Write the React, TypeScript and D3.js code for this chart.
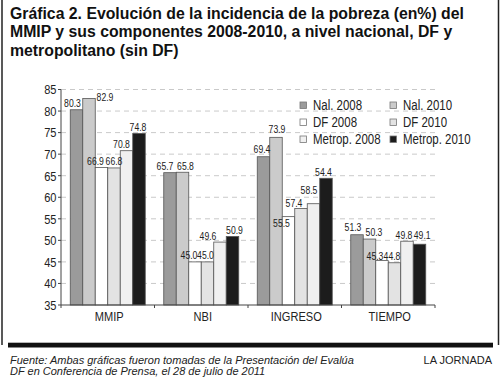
import React from "react";
import * as d3 from "d3";

const categories = ["MMIP", "NBI", "INGRESO", "TIEMPO"];
const seriesNames = ["Nal. 2008", "Nal. 2010", "DF 2008", "DF 2010", "Metrop. 2008", "Metrop. 2010"];
const nal2008 = [80.3, 65.7, 69.4, 51.3];
const nal2010 = [82.9, 65.8, 73.9, 50.3];
const df2008 = [66.9, 45.0, 55.5, 45.3];
const df2010 = [66.8, 45.0, 57.4, 44.8];
const metrop2008 = [70.8, 49.6, 58.5, 49.8];
const metrop2010 = [74.8, 50.9, 64.4, 49.1];
// printed value labels (the original prints 54.4 on the INGRESO Metrop. 2010 bar)
const metrop2010Printed = ["74.8", "50.9", "54.4", "49.1"];
const yTicks = [35, 40, 45, 50, 55, 60, 65, 70, 75, 80, 85];

const titleLines = [
  "Gráfica 2. Evolución de la incidencia de la pobreza (en%) del",
  "MMIP y sus componentes 2008-2010, a nivel nacional, DF y",
  "metropolitano (sin DF)",
];
const footLines = [
  "Fuente: Ambas gráficas fueron tomadas de la Presentación del Evalúa",
  "DF en Conferencia de Prensa, el 28 de julio de 2011",
];

const seriesValues = [nal2008, nal2010, df2008, df2010, metrop2008, metrop2010];
const colors = ["#9b9b9b", "#cbcbcb", "#ffffff", "#e3e3e3", "#f0f0f0", "#1c1c1c"];

// label nudges [dx, dy] per series per category (styling only)
const nudges: [number, number][][] = [
  [[-4, 0], [-5, 0], [-1.5, -1], [-4, -1]],
  [[16, 4.7], [3, 0], [1, -1.5], [4.5, -1]],
  [[-6, 0], [-6, 0], [-7, 12.5], [-7, 1.5]],
  [[0, 0], [-2, 0], [-7, 1], [-2.5, 0]],
  [[-5, 0], [-12, 0], [-4.5, -7], [-3, 0]],
  [[-1, 0], [2, 0], [-2.5, 0], [2.7, -3]],
];

const SANS = "'Liberation Sans', Arial, Helvetica, sans-serif";

function NText(props: {
  x: number;
  y: number;
  size: number;
  sx?: number;
  anchor?: "start" | "middle" | "end";
  dy?: string;
  children: React.ReactNode;
}) {
  return (
    <text
      transform={`translate(${props.x},${props.y}) scale(${props.sx || 0.82},1)`}
      textAnchor={props.anchor || "start"}
      dy={props.dy}
      fontFamily={SANS}
      fontSize={props.size}
      fill="#222"
    >
      {props.children}
    </text>
  );
}

export default function App() {
  const x0 = d3.scaleBand<string>().domain(categories).range([61, 435]);
  const x1 = d3
    .scaleBand<string>()
    .domain(seriesNames)
    .range([9.25, x0.bandwidth() - 9.25]);
  const y = d3.scaleLinear().domain([35, 85]).range([305, 89.5]);

  const bars: React.ReactNode[] = [];
  const labels: React.ReactNode[] = [];
  categories.forEach((c, ci) => {
    seriesNames.forEach((s, si) => {
      const v = seriesValues[si][ci];
      const bx = (x0(c) as number) + (x1(s) as number);
      const by = y(v);
      bars.push(
        <rect
          key={`b${ci}-${si}`}
          x={bx}
          y={by}
          width={x1.bandwidth()}
          height={y(35) - by}
          fill={colors[si]}
          stroke="#555"
          strokeWidth={0.8}
        />
      );
      const txt = si === 5 ? metrop2010Printed[ci] : v.toFixed(1);
      const [dx, dy] = nudges[si][ci];
      labels.push(
        <NText
          key={`l${ci}-${si}`}
          x={bx + x1.bandwidth() / 2 + dx}
          y={by - 2.5 + dy}
          anchor="middle"
          size={10.8}
          sx={0.8}
        >
          {txt}
        </NText>
      );
    });
  });

  const legendCols = [300, 390];
  const legendRows = [109.5, 126.5, 143.5];

  return (
    <svg
      width={500}
      height={377}
      style={{ position: "absolute", left: 0, top: 0, background: "#fff" }}
    >
      <rect x={0} y={0} width={500} height={377} fill="#fff" />
      {/* frame */}
      <line x1={2} y1={0} x2={2} y2={345} stroke="#222" strokeWidth={1.5} />
      <line x1={498.5} y1={0} x2={498.5} y2={345} stroke="#222" strokeWidth={1.5} />
      <rect x={8} y={342.7} width={485} height={4.8} fill="#111" />

      {titleLines.map((t, i) => (
        <text
          key={`t${i}`}
          x={10}
          y={18.5 + i * 18.5}
          fontFamily={SANS}
          fontWeight="bold"
          fontSize={15.8}
          fill="#111"
        >
          {t}
        </text>
      ))}

      {/* gridlines */}
      {yTicks.slice(1).map((t) => (
        <line
          key={`g${t}`}
          x1={61}
          x2={435}
          y1={y(t)}
          y2={y(t)}
          stroke="#bbb"
          strokeWidth={0.8}
          strokeDasharray="5,4"
        />
      ))}

      {bars}
      {labels}

      {/* y axis */}
      <line x1={61} x2={61} y1={y(85)} y2={y(35)} stroke="#444" strokeWidth={1} />
      {yTicks.map((t) => (
        <g key={`yt${t}`}>
          <line x1={58} x2={61} y1={y(t)} y2={y(t)} stroke="#444" strokeWidth={1} />
          <NText x={56.5} y={y(t)} dy="0.36em" anchor="end" size={13.5}>
            {t}
          </NText>
        </g>
      ))}

      {/* x axis */}
      <line x1={61} x2={435} y1={y(35)} y2={y(35)} stroke="#444" strokeWidth={1} />
      {[...categories.map((c) => x0(c) as number), 435].map((px, i) => (
        <line key={`xt${i}`} x1={px} x2={px} y1={y(35)} y2={y(35) + 3} stroke="#444" strokeWidth={1} />
      ))}
      {categories.map((c) => (
        <NText
          key={`xl${c}`}
          x={(x0(c) as number) + x0.bandwidth() / 2 + 1.5}
          y={320.7}
          anchor="middle"
          size={13.5}
        >
          {c}
        </NText>
      ))}

      {/* legend */}
      {seriesNames.map((s, i) => {
        const col = i % 2;
        const row = Math.floor(i / 2);
        const lx = legendCols[col];
        const ly = legendRows[row];
        return (
          <g key={`lg${i}`}>
            <rect
              x={lx}
              y={ly - 7.5}
              width={6.5}
              height={6.5}
              fill={colors[i]}
              stroke="#777"
              strokeWidth={0.8}
            />
            <NText x={lx + 13} y={ly} size={14}>
              {s}
            </NText>
          </g>
        );
      })}

      {/* footer */}
      {footLines.map((t, i) => (
        <text
          key={`f${i}`}
          x={10}
          y={364 + i * 11}
          fontFamily={SANS}
          fontStyle="italic"
          fontSize={11}
          fill="#222"
        >
          {t}
        </text>
      ))}
      <text x={492} y={364} textAnchor="end" fontFamily={SANS} fontSize={11} fill="#222">
        LA JORNADA
      </text>
    </svg>
  );
}
